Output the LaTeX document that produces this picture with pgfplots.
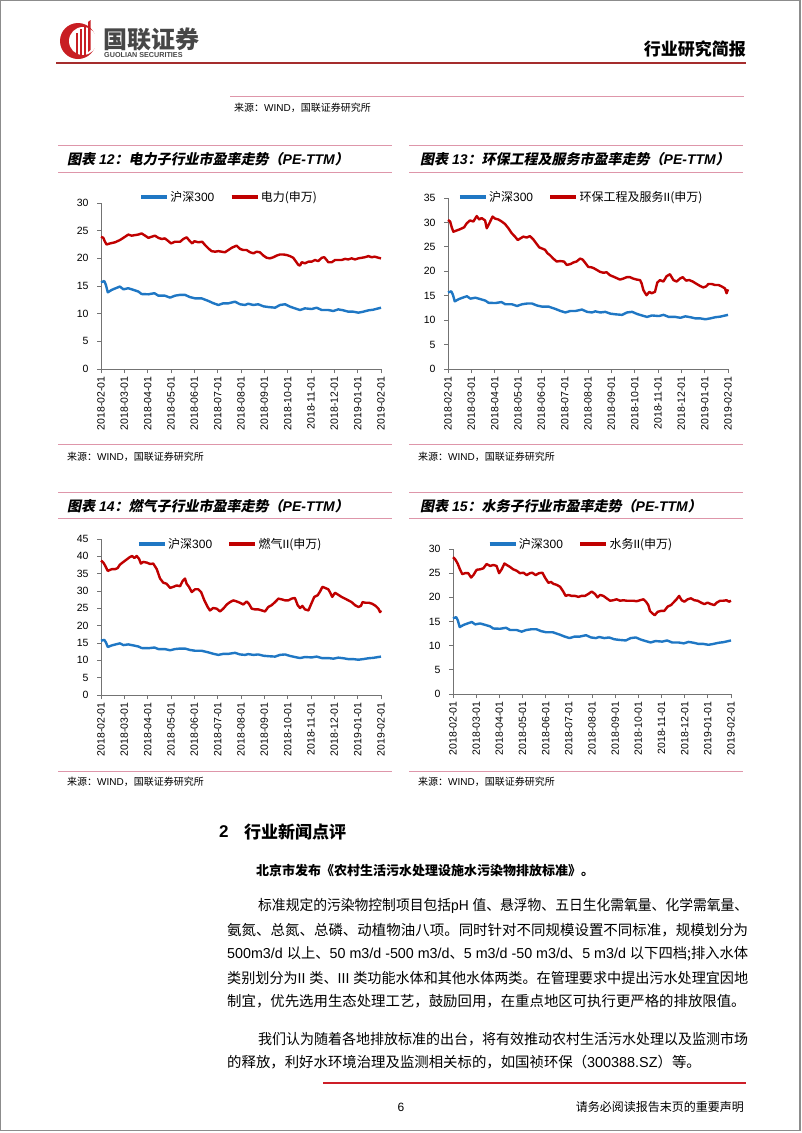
\documentclass[border=0pt]{standalone}
\usepackage{graphicx}
\usepackage{pgfplots}
\pgfplotsset{compat=1.18}
\usepackage{pgfplotstable}
\usepackage{fontspec}
\setmainfont{Liberation Sans}
\newfontfamily\lat{Liberation Sans}
\newfontfamily\cjk{Noto Sans CJK SC}
\newfontfamily\cjkti{Noto Sans CJK SC}[FakeSlant=0.2,BoldFeatures={FakeSlant=0.2}]
\definecolor{hsblue}{RGB}{31,119,196}
\definecolor{indred}{RGB}{192,0,0}
\definecolor{pinkline}{RGB}{222,150,170}
\definecolor{hdrred}{RGB}{165,45,45}
\definecolor{logored}{RGB}{200,30,35}
\definecolor{footred}{RGB}{205,30,40}

\pgfplotstableread{
m v
0 15.66
0.14 15.9
0.21 15.2
0.29 13.85
0.46 14.3
0.63 14.6
0.81 14.9
0.96 14.4
1.17 14.6
1.39 14.3
1.60 14.0
1.74 13.55
2.03 13.5
2.29 13.7
2.46 13.25
2.74 13.25
2.96 12.9
3.17 13.25
3.39 13.4
3.60 13.4
3.81 13.0
4.03 12.77
4.31 12.77
4.60 12.3
4.81 11.9
5.03 11.57
5.24 11.87
5.46 11.87
5.74 12.17
5.96 11.7
6.17 11.57
6.31 11.8
6.53 11.57
6.74 11.7
6.96 11.33
7.17 11.2
7.46 11.08
7.67 11.57
7.89 11.7
8.10 11.27
8.31 10.96
8.53 10.66
8.74 10.96
9.03 10.84
9.24 11.08
9.46 10.66
9.74 10.66
9.96 10.48
10.17 10.78
10.39 10.6
10.60 10.36
10.81 10.36
11.03 10.18
11.24 10.36
11.46 10.6
11.67 10.72
11.89 10.96
12 11.08
}\hstable

\pgfplotsset{
  pechart/.style={
    scale only axis, width=280pt,
    axis x line=bottom, axis y line=left,
    axis line style={draw=black!55, line width=0.8pt, -},
    xmin=0, xmax=12, ymin=0,
    xtick={0,...,12},
    xticklabels={2018-02-01,2018-03-01,2018-04-01,2018-05-01,2018-06-01,2018-07-01,2018-08-01,2018-09-01,2018-10-01,2018-11-01,2018-12-01,2019-01-01,2019-02-01},
    x tick label style={rotate=90, anchor=east},
    y tick label style={xshift=-5pt},
    tick align=outside, major tick length=4pt,
    tick style={draw=black!55, line width=0.8pt},
    tick label style={font=\fontsize{10.5}{12}\selectfont},
    /pgf/number format/assume math mode=true,
    clip=false,
    legend columns=2,
    legend style={draw=none, fill=none, font=\fontsize{12}{13}\selectfont,
      /tikz/every even column/.append style={column sep=14pt},
      nodes={inner sep=1.5pt}, anchor=center},
    legend image code/.code={\draw[#1,line width=3.5pt] (0pt,0pt) -- (26pt,0pt);},
  },
  hsline/.style={color=hsblue, line width=2.4pt, line join=round},
  indline/.style={color=indred, line width=2.4pt, line join=round},
}

\begin{document}
\begin{tikzpicture}
\path[use as bounding box, fill=white] (0pt,0pt) rectangle (802pt,-1133pt);

% ---------- Chart 12
\begin{axis}[pechart, at={(101pt,-369pt)}, anchor=south west, height=166pt,
  ymax=30, ytick={0,5,...,30},
  legend style={at={(0.457,1.036)}}]
\addplot[hsline] table[x=m,y=v] {\hstable};
\addlegendentry{{\cjk 沪深}300}
\addplot[indline] coordinates {
(0,23.9)(0.10,23.7)(0.17,23.0)(0.24,22.5)(0.39,22.7)(0.60,22.9)(0.81,23.3)(1.03,23.9)(1.17,24.3)(1.31,24.1)
(1.46,24.2)(1.60,24.3)(1.74,24.5)(1.89,24.1)(2.03,23.7)(2.17,23.9)(2.31,24.1)(2.46,23.7)(2.60,23.5)(2.74,23.6)
(2.89,23.1)(3.00,22.7)(3.17,23.0)(3.39,23.0)(3.53,23.5)(3.67,23.8)(3.81,23.1)(3.91,22.7)(4.00,23.1)(4.17,22.9)
(4.34,23.0)(4.46,22.4)(4.60,21.8)(4.74,21.3)(4.89,21.2)(5.03,21.3)(5.17,21.2)(5.31,21.1)(5.46,21.5)(5.60,21.9)
(5.81,22.3)(5.96,21.7)(6.10,21.5)(6.24,21.5)(6.39,21.1)(6.53,20.9)(6.67,21.2)(6.81,21.1)(6.96,20.5)(7.10,20.1)
(7.24,20.0)(7.39,20.2)(7.53,20.5)(7.67,20.7)(7.81,20.7)(7.96,20.6)(8.10,20.4)(8.24,20.1)(8.36,19.4)(8.46,18.8)
(8.53,18.7)(8.60,19.3)(8.74,19.1)(8.89,19.4)(9.03,19.4)(9.17,19.7)(9.31,19.5)(9.46,20.1)(9.57,20.2)(9.67,19.7)
(9.74,19.3)(9.89,19.3)(10.03,19.7)(10.17,19.7)(10.31,19.7)(10.46,19.9)(10.60,19.8)(10.74,20.0)(10.89,19.8)(11.03,20.0)
(11.17,20.1)(11.31,20.2)(11.46,20.4)(11.60,20.2)(11.74,20.3)(11.89,20.1)(12.00,20.0)};
\addlegendentry{{\cjk 电力(申万)}}
\end{axis}

% ---------- Chart 13
\begin{axis}[pechart, at={(448pt,-369pt)}, anchor=south west, height=171pt,
  ymax=35, ytick={0,5,...,35},
  legend style={at={(0.475,1.006)}}]
\addplot[hsline] table[x=m,y=v] {\hstable};
\addlegendentry{{\cjk 沪深}300}
\addplot[indline] coordinates {
(0,30.5)(0.09,30.2)(0.16,29.0)(0.23,28.1)(0.34,28.3)(0.51,28.6)(0.69,29.0)(0.80,29.8)(0.94,30.4)(1.09,30.2)
(1.23,31.3)(1.34,30.6)(1.44,30.9)(1.59,30.4)(1.66,28.8)(1.77,29.8)(1.91,31.2)(2.01,30.8)(2.16,30.6)(2.30,30.2)
(2.44,29.7)(2.59,28.8)(2.73,27.8)(2.87,27.1)(2.99,26.4)(3.09,26.7)(3.23,27.1)(3.37,26.9)(3.51,27.2)(3.66,26.5)
(3.80,25.6)(3.91,24.9)(4.01,24.7)(4.16,24.4)(4.26,23.7)(4.37,23.3)(4.51,22.6)(4.66,22.0)(4.80,22.1)(4.97,22.0)
(5.09,21.3)(5.26,21.5)(5.37,21.8)(5.51,22.0)(5.66,22.6)(5.77,22.4)(5.87,21.8)(6.01,20.9)(6.16,20.8)(6.26,20.6)
(6.37,20.3)(6.51,19.9)(6.66,19.7)(6.80,19.8)(6.94,19.2)(7.09,18.9)(7.23,18.6)(7.37,18.3)(7.51,18.5)(7.66,18.8)
(7.80,18.8)(7.94,18.5)(8.09,18.3)(8.23,18.2)(8.30,17.5)(8.37,16.2)(8.44,15.6)(8.51,15.1)(8.63,15.8)(8.73,15.5)
(8.87,15.8)(8.97,17.7)(9.09,18.2)(9.23,17.9)(9.37,19.0)(9.51,19.4)(9.66,18.2)(9.80,17.9)(9.94,18.5)(10.06,18.8)
(10.20,18.1)(10.34,18.2)(10.49,17.9)(10.66,17.4)(10.80,17.0)(10.94,16.7)(11.06,16.9)(11.16,17.4)(11.30,17.4)(11.44,17.2)
(11.59,17.2)(11.73,16.9)(11.87,16.5)(11.94,15.5)(12.00,16.3)};
\addlegendentry{{\cjk 环保工程及服务}II{\cjk (申万)}}
\end{axis}

% ---------- Chart 14
\begin{axis}[pechart, at={(101pt,-695pt)}, anchor=south west, height=156pt,
  ymax=45, ytick={0,5,...,45},
  legend style={at={(0.461,0.968)}}]
\addplot[hsline] table[x=m,y=v] {\hstable};
\addlegendentry{{\cjk 沪深}300}
\addplot[indline] coordinates {
(0,38.8)(0.10,38.2)(0.17,37.4)(0.29,35.8)(0.46,36.3)(0.60,36.3)(0.71,36.6)(0.81,37.6)(0.96,38.4)(1.10,39.1)
(1.24,39.8)(1.34,40.1)(1.43,39.5)(1.53,40.1)(1.63,39.3)(1.71,37.9)(1.81,38.4)(1.96,38.2)(2.10,37.8)(2.24,37.9)
(2.39,36.3)(2.53,33.6)(2.67,32.4)(2.81,32.1)(2.96,30.9)(3.10,31.2)(3.24,31.6)(3.39,31.4)(3.49,32.8)(3.60,33.6)
(3.67,32.1)(3.77,31.2)(3.89,29.7)(4.03,30.5)(4.17,30.5)(4.29,29.7)(4.43,27.3)(4.57,25.4)(4.67,24.4)(4.81,25.1)
(4.96,24.9)(5.10,24.1)(5.24,24.9)(5.39,26.1)(5.53,26.8)(5.67,27.3)(5.81,27.0)(5.96,26.6)(6.10,26.1)(6.24,27.0)
(6.34,26.3)(6.46,24.9)(6.60,24.7)(6.74,24.7)(6.89,24.4)(7.03,24.1)(7.17,25.4)(7.31,25.9)(7.46,26.8)(7.60,27.8)
(7.74,27.6)(7.89,27.3)(8.03,27.3)(8.17,27.8)(8.31,28.0)(8.43,25.9)(8.53,25.1)(8.63,25.7)(8.74,24.7)(8.89,24.4)
(9.03,26.6)(9.14,28.3)(9.29,28.8)(9.39,29.9)(9.49,31.2)(9.60,30.9)(9.74,30.5)(9.81,29.7)(9.91,28.3)(10.03,29.5)
(10.17,28.9)(10.31,28.3)(10.46,27.8)(10.60,27.3)(10.74,26.8)(10.89,25.9)(11.03,25.4)(11.14,25.7)(11.21,26.8)(11.34,26.6)
(11.49,26.6)(11.63,26.3)(11.77,25.7)(11.89,24.9)(11.96,23.9)(12.00,24.4)};
\addlegendentry{{\cjk 燃气}II{\cjk (申万)}}
\end{axis}

% ---------- Chart 15
\begin{axis}[pechart, at={(453pt,-694pt)}, anchor=south west, width=278pt, height=145pt,
  ymax=30, ytick={0,5,...,30},
  legend style={at={(0.46,1.034)}}]
\addplot[hsline] table[x=m,y=v] {\hstable};
\addlegendentry{{\cjk 沪深}300}
\addplot[indline] coordinates {
(0,28.3)(0.09,27.9)(0.20,27.0)(0.30,25.8)(0.40,24.8)(0.52,25.0)(0.66,25.0)(0.78,24.1)(0.88,24.6)(1.02,25.7)
(1.17,25.8)(1.31,26.0)(1.45,26.9)(1.60,26.5)(1.74,26.7)(1.88,26.5)(1.99,25.0)(2.10,25.8)(2.22,27.0)(2.32,26.7)
(2.46,26.3)(2.60,25.8)(2.75,25.5)(2.89,25.0)(3.04,25.1)(3.18,24.6)(3.32,25.0)(3.42,25.1)(3.57,24.6)(3.71,25.0)
(3.86,25.1)(3.97,24.1)(4.12,23.0)(4.23,23.2)(4.33,22.8)(4.47,22.6)(4.62,22.2)(4.76,21.2)(4.86,20.3)(4.98,20.5)
(5.12,20.3)(5.27,20.3)(5.41,20.1)(5.55,20.3)(5.70,20.3)(5.84,20.7)(5.99,21.2)(6.13,20.7)(6.24,20.0)(6.35,20.5)
(6.49,20.3)(6.63,19.8)(6.78,19.3)(6.92,19.4)(7.06,19.6)(7.21,19.3)(7.35,19.4)(7.50,19.3)(7.64,19.3)(7.78,19.3)
(7.93,19.2)(8.07,19.4)(8.22,19.6)(8.33,19.1)(8.43,18.4)(8.50,17.2)(8.60,16.7)(8.71,16.3)(8.83,17.0)(8.98,17.2)
(9.12,17.2)(9.27,18.1)(9.41,18.4)(9.55,19.1)(9.65,19.6)(9.76,20.3)(9.87,19.4)(9.99,19.1)(10.13,19.6)(10.27,19.8)
(10.42,19.4)(10.56,19.3)(10.71,18.9)(10.85,18.6)(10.99,18.9)(11.14,18.6)(11.28,18.4)(11.38,18.9)(11.53,19.3)(11.67,19.3)
(11.81,19.4)(11.91,19.1)(12.00,19.3)};
\addlegendentry{{\cjk 水务}II{\cjk (申万)}}
\end{axis}

\begin{scope}[x=1pt,y=-1pt]
% page frame
\draw[black!45, line width=1.2pt] (0.6,0.6) rectangle (800,1130.5);
% logo
\fill[logored] (78,41) circle (18);
\fill[white] (83,41) circle (14);
\fill[logored] (76,33) rectangle (78.3,57);
\fill[logored] (80,29) rectangle (82.3,57);
\fill[logored] (84,25) rectangle (86.3,55);
\fill[logored] (88,22) -- (90.5,20) -- (90.5,50) -- (88,52) -- cycle;
\node[anchor=west, inner sep=0pt, font=\cjk\bfseries\fontsize{24}{24}\selectfont, text=black!72] at (103,39) {国联证券};
\node[anchor=west, inner sep=0pt, font=\bfseries\fontsize{7.2}{8}\selectfont, text=black!72] at (104,55) {GUOLIAN SECURITIES};
\node[anchor=east, inner sep=0pt, font=\cjk\bfseries\fontsize{17}{17}\selectfont] at (746,49) {行业研究简报};
\draw[hdrred, line width=1.5pt] (56,63) -- (746,63);
\draw[pinkline, line width=0.8pt] (230,96.5) -- (744,96.5);
\node[anchor=west, inner sep=0pt, font=\fontsize{10}{10}\selectfont] at (234,108) {{\cjk 来源：}WIND{\cjk ，国联证券研究所}};

% chart frames
\foreach \y in {145,172,444} {\draw[pinkline, line width=1pt] (58,\y) -- (392,\y); \draw[pinkline, line width=1pt] (409,\y) -- (743,\y);}
\foreach \y in {492,518,771} {\draw[pinkline, line width=1pt] (58,\y) -- (392,\y); \draw[pinkline, line width=1pt] (409,\y) -- (743,\y);}
\node[anchor=west, inner sep=0pt, font=\fontsize{14}{14}\selectfont] at (67,159)
  {{\cjkti\bfseries 图表} {\bfseries\itshape 12}{\cjkti\bfseries ：电力子行业市盈率走势（}{\bfseries\itshape PE-TTM}{\cjkti\bfseries ）}};
\node[anchor=west, inner sep=0pt, font=\fontsize{14}{14}\selectfont] at (420,159)
  {{\cjkti\bfseries 图表} {\bfseries\itshape 13}{\cjkti\bfseries ：环保工程及服务市盈率走势（}{\bfseries\itshape PE-TTM}{\cjkti\bfseries ）}};
\node[anchor=west, inner sep=0pt, font=\fontsize{14}{14}\selectfont] at (67,506)
  {{\cjkti\bfseries 图表} {\bfseries\itshape 14}{\cjkti\bfseries ：燃气子行业市盈率走势（}{\bfseries\itshape PE-TTM}{\cjkti\bfseries ）}};
\node[anchor=west, inner sep=0pt, font=\fontsize{14}{14}\selectfont] at (420,506)
  {{\cjkti\bfseries 图表} {\bfseries\itshape 15}{\cjkti\bfseries ：水务子行业市盈率走势（}{\bfseries\itshape PE-TTM}{\cjkti\bfseries ）}};
\foreach \x/\y in {67/457,418/457,67/782,418/782}
  \node[anchor=west, inner sep=0pt, font=\fontsize{10}{10}\selectfont] at (\x,\y) {{\cjk 来源：}WIND{\cjk ，国联证券研究所}};

% section text
\node[anchor=west, inner sep=0pt, font=\bfseries\fontsize{17}{17}\selectfont] at (219,832) {2};
\node[anchor=west, inner sep=0pt, font=\cjk\bfseries\fontsize{17}{17}\selectfont] at (244,832) {行业新闻点评};
\node[anchor=west, inner sep=0pt, font=\cjk\bfseries\fontsize{13}{13}\selectfont] at (256,871) {北京市发布《农村生活污水处理设施水污染物排放标准》。};
\begin{scope}[every node/.style={anchor=west, inner sep=0pt, font=\cjk\fontsize{14.4}{14.4}\selectfont}]
\node at (258,906) {\resizebox{490pt}{\height}{标准规定的污染物控制项目包括{\lat pH }值、悬浮物、五日生化需氧量、化学需氧量、}};
\node at (227,930) {\resizebox{521pt}{\height}{氨氮、总氮、总磷、动植物油八项。同时针对不同规模设置不同标准，规模划分为}};
\node at (227,954) {\resizebox{521pt}{\height}{{\lat 500m3/d }以上、{\lat 50 m3/d -500 m3/d}、{\lat 5 m3/d -50 m3/d}、{\lat 5 m3/d }以下四档;排入水体}};
\node at (227,978) {\resizebox{521pt}{\height}{类别划分为{\lat II }类、{\lat III }类功能水体和其他水体两类。在管理要求中提出污水处理宜因地}};
\node at (227,1001) {制宜，优先选用生态处理工艺，鼓励回用，在重点地区可执行更严格的排放限值。};
\node at (258,1039) {\resizebox{490pt}{\height}{我们认为随着各地排放标准的出台，将有效推动农村生活污水处理以及监测市场}};
\node at (227,1062) {的释放，利好水环境治理及监测相关标的，如国祯环保（{\lat 300388.SZ}）等。};
\end{scope}
% footer
\draw[footred, line width=1.3pt] (323,1083) -- (746,1083);
\node[inner sep=0pt, font=\fontsize{12}{12}\selectfont] at (401,1107) {6};
\node[anchor=east, inner sep=0pt, font=\cjk\fontsize{12}{12}\selectfont] at (744,1107) {请务必阅读报告末页的重要声明};
\end{scope}
\end{tikzpicture}
\end{document}
